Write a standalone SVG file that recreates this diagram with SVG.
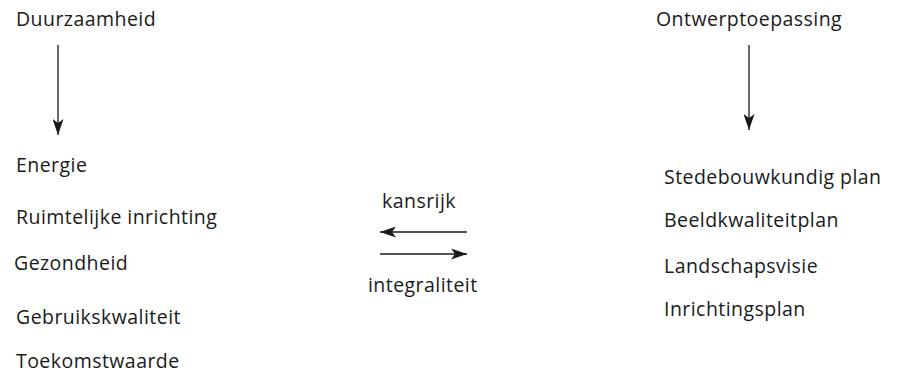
<svg xmlns="http://www.w3.org/2000/svg" width="914" height="375" viewBox="0 0 914 375">
<style>
text{font-family:"Open Sans","Noto Sans","DejaVu Sans",sans-serif;font-size:19.5px;letter-spacing:0.45px;fill:#1a1a1a}
.c line{stroke:#1a1a1a;stroke-width:1.3}
</style>
<defs>
<marker id="ah" viewBox="0 0 16 11" refX="16" refY="5.5" markerWidth="16" markerHeight="11" markerUnits="userSpaceOnUse" orient="auto">
<path d="M0,0 L16,5.5 L0,11 L4,5.5 Z" fill="#1a1a1a"/>
</marker>
</defs>
<rect width="914" height="375" fill="#fff"/>
<g id="duurzaamheid"><text x="16" y="26">Duurzaamheid</text></g>
<g id="ontwerptoepassing"><text x="656" y="26">Ontwerptoepassing</text></g>
<g id="energie"><text x="16" y="172">Energie</text></g>
<g id="ruimtelijke"><text x="16" y="224">Ruimtelijke inrichting</text></g>
<g id="gezondheid"><text x="14" y="270">Gezondheid</text></g>
<g id="gebruikskwaliteit"><text x="16" y="324">Gebruikskwaliteit</text></g>
<g id="toekomstwaarde"><text x="16" y="368">Toekomstwaarde</text></g>
<g id="stedebouwkundig"><text x="664" y="184">Stedebouwkundig plan</text></g>
<g id="beeldkwaliteit"><text x="664" y="227">Beeldkwaliteitplan</text></g>
<g id="landschap"><text x="664" y="273">Landschapsvisie</text></g>
<g id="inrichtingsplan"><text x="664" y="316">Inrichtingsplan</text></g>
<g id="kansrijk"><text x="382" y="208">kansrijk</text></g>
<g id="integraliteit"><text x="368" y="292">integraliteit</text></g>
<g class="c" id="connectors">
<line x1="58" y1="45" x2="58" y2="135" marker-end="url(#ah)"/>
<line x1="749" y1="45" x2="749" y2="130" marker-end="url(#ah)"/>
<line x1="467" y1="232" x2="380" y2="232" marker-end="url(#ah)"/>
<line x1="380" y1="254" x2="467" y2="254" marker-end="url(#ah)"/>
</g>
</svg>
